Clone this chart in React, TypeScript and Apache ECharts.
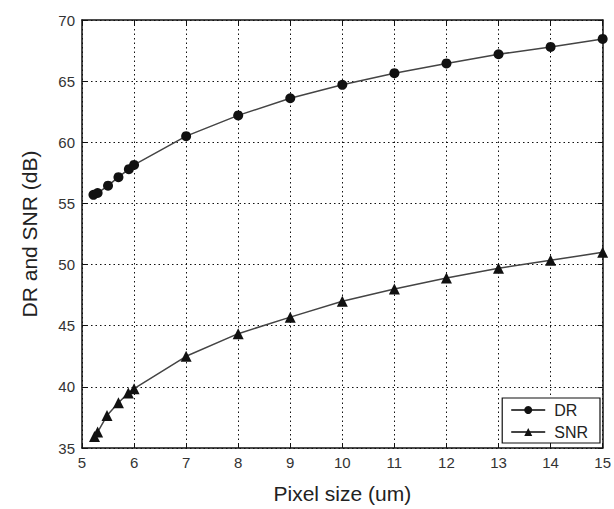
import React, { useEffect, useRef } from "react";
import * as echarts from "echarts";

const pixelSize = [5.22, 5.3, 5.5, 5.7, 5.9, 6, 7, 8, 9, 10, 11, 12, 13, 14, 15];
const drValues = [55.7, 55.85, 56.45, 57.15, 57.8, 58.15, 60.5, 62.2, 63.6, 64.7, 65.65, 66.45, 67.2, 67.8, 68.45];
const snrPixelSize = [5.24, 5.3, 5.48, 5.7, 5.89, 6, 7, 8, 9, 10, 11, 12, 13, 14, 15];
const snrValues = [35.95, 36.3, 37.65, 38.7, 39.5, 39.85, 42.5, 44.35, 45.7, 47.0, 48.0, 48.9, 49.7, 50.35, 51.0];

const xName = "Pixel size (um)";
const yName = "DR and SNR (dB)";

export default function App() {
  const ref = useRef<HTMLDivElement>(null);
  useEffect(() => {
    if (!ref.current) return;
    const chart = echarts.init(ref.current, null, { renderer: "svg" });
    const font = "'Liberation Sans', Arial, sans-serif";
    const axisLine = { show: true, onZero: false, lineStyle: { color: "#111", width: 1.5 } };
    const tick = { show: true, inside: true, length: 5, lineStyle: { color: "#111", width: 1 } };
    const split = { show: true, lineStyle: { color: "#111", type: [1.5, 3], width: 1 } };
    chart.setOption({
      animation: false,
      backgroundColor: "#fff",
      grid: { left: 82, right: 10, top: 20, bottom: 59, containLabel: false },
      legend: {
        right: 14,
        bottom: 66,
        orient: "vertical",
        backgroundColor: "#fff",
        borderColor: "#111",
        borderWidth: 1.2,
        borderRadius: 0,
        padding: [4, 12, 3, 8],
        itemGap: 6,
        itemWidth: 34,
        itemHeight: 10,
        textStyle: { fontFamily: font, fontSize: 16, color: "#222", padding: [0, 0, 0, 4] },
        data: ["DR", "SNR"],
      },
      xAxis: [
        {
          type: "value",
          min: 5,
          max: 15,
          interval: 1,
          name: xName,
          nameLocation: "middle",
          nameGap: 35,
          nameTextStyle: { fontFamily: font, fontSize: 21, color: "#222" },
          axisLine,
          axisTick: tick,
          splitLine: split,
          axisLabel: { fontFamily: font, fontSize: 15, color: "#333", margin: 7 },
        },
        {
          type: "value",
          position: "top",
          min: 5,
          max: 15,
          interval: 1,
          axisLine,
          axisTick: tick,
          splitLine: { show: false },
          axisLabel: { show: false },
        },
      ],
      yAxis: [
        {
          type: "value",
          min: 35,
          max: 70,
          interval: 5,
          name: yName,
          nameLocation: "middle",
          nameGap: 42,
          nameTextStyle: { fontFamily: font, fontSize: 21, color: "#222" },
          axisLine,
          axisTick: tick,
          splitLine: split,
          axisLabel: { fontFamily: font, fontSize: 15, color: "#333", margin: 7 },
        },
        {
          type: "value",
          position: "right",
          min: 35,
          max: 70,
          interval: 5,
          axisLine,
          axisTick: tick,
          splitLine: { show: false },
          axisLabel: { show: false },
        },
      ],
      series: [
        {
          name: "DR",
          type: "line",
          data: pixelSize.map((x, i) => [x, drValues[i]]),
          symbol: "circle",
          symbolSize: 10,
          itemStyle: { color: "#111" },
          lineStyle: { color: "#444", width: 1.5 },
        },
        {
          name: "SNR",
          type: "line",
          data: snrPixelSize.map((x, i) => [x, snrValues[i]]),
          symbol: "triangle",
          symbolSize: 11,
          itemStyle: { color: "#111" },
          lineStyle: { color: "#444", width: 1.5 },
        },
      ],
    });
    return () => chart.dispose();
  }, []);
  return (
    <div
      ref={ref}
      style={{ position: "fixed", left: 0, top: 0, width: 614, height: 509, background: "#fff" }}
    />
  );
}
